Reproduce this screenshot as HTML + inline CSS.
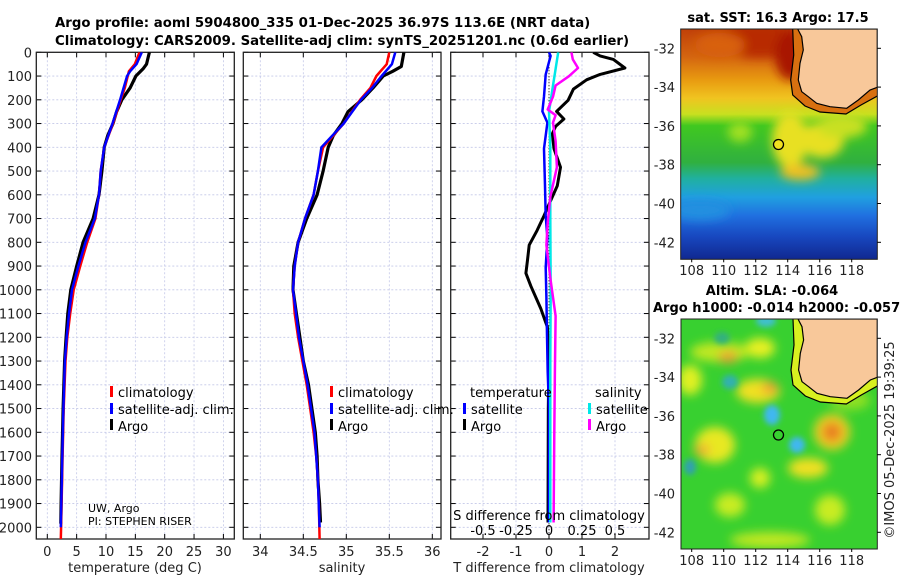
<!DOCTYPE html>
<html><head><meta charset="utf-8">
<style>
html,body{margin:0;padding:0;background:#fff;}
svg{display:block;font-family:"DejaVu Sans","Liberation Sans",sans-serif;}
</style></head>
<body>
<svg id="fig" width="900" height="580" viewBox="0 0 900 580" xmlns="http://www.w3.org/2000/svg">
<defs>
<clipPath id="cp1"><rect x="36.3" y="52.3" width="198" height="486.7"/></clipPath>
<clipPath id="cp2"><rect x="243.3" y="52.3" width="197.7" height="486.7"/></clipPath>
<clipPath id="cp3"><rect x="450.7" y="52.3" width="198.3" height="486.7"/></clipPath>
<clipPath id="cm1"><rect x="680.7" y="29" width="196.6" height="230.3"/></clipPath>
<clipPath id="cm2"><rect x="681" y="319" width="196.3" height="230"/></clipPath>
<filter id="bl" x="-50%" y="-50%" width="200%" height="200%"><feGaussianBlur stdDeviation="5"/></filter>
<filter id="bl2" x="-50%" y="-50%" width="200%" height="200%"><feGaussianBlur stdDeviation="3"/></filter>
<linearGradient id="sstg" x1="0" y1="0" x2="0" y2="1">
<stop offset="0" stop-color="#c04008"/><stop offset="0.12" stop-color="#d46510"/>
<stop offset="0.22" stop-color="#e89a10"/><stop offset="0.3" stop-color="#f0c420"/>
<stop offset="0.37" stop-color="#c8e020"/><stop offset="0.42" stop-color="#40c820"/>
<stop offset="0.58" stop-color="#30b040"/><stop offset="0.65" stop-color="#20b0a0"/>
<stop offset="0.73" stop-color="#20a0e0"/><stop offset="0.81" stop-color="#2070e0"/>
<stop offset="0.9" stop-color="#1848c0"/><stop offset="1" stop-color="#102890"/>
</linearGradient>
</defs>

<text x="55" y="27" font-size="13.3" font-weight="bold">Argo profile: aoml 5904800_335 01-Dec-2025 36.97S 113.6E (NRT data)</text>
<text x="55" y="45" font-size="13.3" font-weight="bold">Climatology: CARS2009. Satellite-adj clim: synTS_20251201.nc (0.6d earlier)</text>

<g id="p1"></g>
<g id="p2"></g>
<g id="p3"></g>

<g font-size="13">
<rect x="110" y="386" width="3" height="11" fill="#f00"/>
<text x="118" y="397">climatology</text>
<rect x="110" y="403" width="3" height="11" fill="#00f"/>
<text x="118" y="414">satellite-adj. clim.</text>
<rect x="110" y="419" width="3" height="11" fill="#000"/>
<text x="118" y="431">Argo</text>
</g>
<g font-size="13">
<rect x="330" y="386" width="3" height="11" fill="#f00"/>
<text x="338" y="397">climatology</text>
<rect x="330" y="403" width="3" height="11" fill="#00f"/>
<text x="338" y="414">satellite-adj. clim.</text>
<rect x="330" y="419" width="3" height="11" fill="#000"/>
<text x="338" y="431">Argo</text>
</g>
<g font-size="13">
<text x="470" y="397">temperature</text>
<rect x="463" y="403" width="3" height="11" fill="#00f"/>
<text x="471" y="414">satellite</text>
<rect x="463" y="419" width="3" height="11" fill="#000"/>
<text x="471" y="431">Argo</text>
<text x="595" y="397">salinity</text>
<rect x="588" y="403" width="3" height="11" fill="#00e8e8"/>
<text x="596" y="414">satellite</text>
<rect x="588" y="419" width="3" height="11" fill="#f0f"/>
<text x="596" y="431">Argo</text>
</g>
<text x="88" y="512" font-size="11">UW, Argo</text>
<text x="88" y="525" font-size="11">PI: STEPHEN RISER</text>

<text x="135" y="572" font-size="13" text-anchor="middle" fill="#222">temperature (deg C)</text>
<text x="342" y="572" font-size="13" text-anchor="middle" fill="#222">salinity</text>
<text x="549" y="572" font-size="13" text-anchor="middle" fill="#222">T difference from climatology</text>
<text x="549" y="520" font-size="13" text-anchor="middle">S difference from climatology</text>

<g>
<text x="778" y="22" font-size="13" font-weight="bold" text-anchor="middle">sat. SST: 16.3 Argo: 17.5</text>
<g clip-path="url(#cm1)">
<rect x="680.7" y="29" width="196.6" height="230.3" fill="url(#sstg)"/>
<g filter="url(#bl)">
<ellipse cx="760" cy="40" rx="40" ry="18" fill="#b82a04"/>
<ellipse cx="720" cy="45" rx="25" ry="12" fill="#d86010"/>
<ellipse cx="790" cy="55" rx="15" ry="25" fill="#a81800"/>
<ellipse cx="790" cy="140" rx="18" ry="28" fill="#e8e020"/>
<ellipse cx="822" cy="140" rx="22" ry="18" fill="#e8e020"/>
<ellipse cx="800" cy="172" rx="20" ry="8" fill="#f0c020"/>
<ellipse cx="842" cy="126" rx="25" ry="12" fill="#c8e020"/>
<ellipse cx="740" cy="132" rx="12" ry="10" fill="#a0e020"/>
<ellipse cx="700" cy="210" rx="30" ry="10" fill="#2090e0"/>
</g>
<path d="M797.7,29 L801.7,36.7 L803.3,50 L800,63.3 L798.3,80 L801.7,91.7 L808.3,96.7 L816.7,103.3 L830,106.7 L846.7,108.3 L858.3,100 L870,90 L877.3,87.3 L877.3,96 L861,105 L846,114 L820,112 L805,106 L792.7,95 L790.7,80 L793.7,55 L792.7,29 Z" fill="#d87010"/>
<path d="M797.7,29 L801.7,36.7 L803.3,50 L800,63.3 L798.3,80 L801.7,91.7 L808.3,96.7 L816.7,103.3 L830,106.7 L846.7,108.3 L858.3,100 L870,90 L877.3,87.3 L877.3,29 Z" fill="#f8c89a" stroke="#000" stroke-width="1.2"/>
<path d="M792.7,29 L793.7,55 L790.7,80 L792.7,95 L805,106 L820,112 L846,114 L861,105 L877.3,96" fill="none" stroke="#000" stroke-width="1.2"/>
<circle cx="778.5" cy="144.5" r="5" fill="#f0e020" stroke="#000" stroke-width="1.3"/>
</g>
<rect x="680.7" y="29" width="196.6" height="230.3" fill="none" stroke="#222" stroke-width="1"/>
</g>
<g>
<text x="772" y="295" font-size="13" font-weight="bold" text-anchor="middle">Altim. SLA: -0.064</text>
<text x="653" y="312" font-size="13" font-weight="bold">Argo h1000: -0.014 h2000: -0.057</text>
<g clip-path="url(#cm2)">
<rect x="681" y="319" width="196.3" height="230" fill="#38d030"/>
<g filter="url(#bl)">
<ellipse cx="760" cy="348" rx="15" ry="10" fill="#e8f020"/>
<ellipse cx="720" cy="352" rx="30" ry="10" fill="#c0e820"/>
<ellipse cx="758" cy="391" rx="22" ry="12" fill="#f0e020"/>
<ellipse cx="728" cy="357" rx="10" ry="6" fill="#f0a030"/>
<ellipse cx="770" cy="388" rx="8" ry="6" fill="#f0a030"/>
<ellipse cx="690" cy="380" rx="12" ry="15" fill="#e0f020"/>
<ellipse cx="715" cy="445" rx="20" ry="18" fill="#e8e820"/>
<ellipse cx="702" cy="450" rx="8" ry="6" fill="#f0b030"/>
<ellipse cx="832" cy="432" rx="18" ry="18" fill="#f0d020"/>
<ellipse cx="832" cy="432" rx="10" ry="10" fill="#e88020"/>
<ellipse cx="808" cy="468" rx="20" ry="10" fill="#f0e020"/>
<ellipse cx="760" cy="478" rx="10" ry="10" fill="#d8f020"/>
<ellipse cx="730" cy="505" rx="15" ry="12" fill="#c8ec20"/>
<ellipse cx="830" cy="510" rx="15" ry="15" fill="#c8ec20"/>
<ellipse cx="850" cy="400" rx="20" ry="10" fill="#90e020"/>
<ellipse cx="770" cy="540" rx="40" ry="8" fill="#c0e820"/>
</g>
<g filter="url(#bl2)">
<ellipse cx="772" cy="415" rx="8" ry="10" fill="#40b8f0"/>
<ellipse cx="797" cy="445" rx="8" ry="8" fill="#40b8f0"/>
<ellipse cx="766" cy="321" rx="10" ry="6" fill="#40c0d0"/>
<ellipse cx="730" cy="382" rx="8" ry="7" fill="#30b0b0"/>
<ellipse cx="690" cy="467" rx="6" ry="8" fill="#30a0b0"/>
<ellipse cx="722" cy="338" rx="8" ry="6" fill="#30b080"/>
</g>
<path d="M798,319 L802,326.7 L803.6,340 L800.3,353.3 L798.6,370 L802,381.7 L808.6,386.7 L817,393.3 L830.3,396.7 L847,398.3 L858.6,390 L870.3,380 L877.3,377.3 L877.3,386 L861.3,395 L846.3,404 L820.3,402 L805.3,396 L793,385 L791,370 L794,345 L793,319 Z" fill="#d8f020"/>
<path d="M798,319 L802,326.7 L803.6,340 L800.3,353.3 L798.6,370 L802,381.7 L808.6,386.7 L817,393.3 L830.3,396.7 L847,398.3 L858.6,390 L870.3,380 L877.3,377.3 L877.3,319 Z" fill="#f8c89a" stroke="#000" stroke-width="1.2"/>
<path d="M793,319 L794,345 L791,370 L793,385 L805.3,396 L820.3,402 L846.3,404 L861.3,395 L877.3,386" fill="none" stroke="#000" stroke-width="1.2"/>
<circle cx="778.5" cy="435" r="5" fill="none" stroke="#000" stroke-width="1.3"/>
</g>
<rect x="681" y="319" width="196.3" height="230" fill="none" stroke="#222" stroke-width="1"/>
</g>
<text transform="translate(894,440) rotate(-90)" font-size="13" text-anchor="middle" fill="#222">©IMOS 05-Dec-2025 19:39:25</text>
<g id="mapax"></g>
</svg>
<script>
const depthTicks = [0,100,200,300,400,500,600,700,800,900,1000,1100,1200,1300,1400,1500,1600,1700,1800,1900,2000];
const tTicks = [0,5,10,15,20,25,30];
const sTicks = [34,34.5,35,35.5,36];
const sTickLabels = ["34","34.5","35","35.5","36"];
const dTTicks = [-2,-1,0,1,2];
const dSTicks = [-0.5,-0.25,0,0.25,0.5];
const dSTickLabels = ["-0.5","-0.25","0","0.25","0.5"];

const tArgoDepth = [0,50,70,100,150,200,250,300,350,400,500,600,700,800,900,1000,1100,1200,1300,1500,1700,1900,1985];
const tArgo = [17.4,16.9,16.3,15.1,14.1,12.7,11.8,11.2,10.3,9.7,9.3,8.8,7.8,6.1,5.0,4.0,3.5,3.2,2.95,2.7,2.5,2.35,2.3];
const tClimDepth = [0,50,80,150,200,300,400,500,600,700,800,900,1000,1100,1200,1300,1500,1700,2000,2050];
const tClim = [15.7,14.9,13.9,13.2,12.5,11.2,9.7,9.1,8.8,8.2,6.8,5.6,4.5,3.9,3.4,3.1,2.8,2.6,2.35,2.3];
const tSatDepth = [0,50,80,100,150,200,300,400,500,600,700,800,900,1000,1100,1200,1300,1500,1700,2000];
const tSat = [16.1,15.2,14.1,13.6,13.0,12.4,11.1,9.7,9.1,8.8,8.1,6.5,5.3,4.2,3.7,3.3,3.0,2.75,2.55,2.3];

const sArgoDepth = [0,60,80,100,150,200,250,300,350,400,500,600,700,800,900,1000,1100,1200,1300,1400,1500,1600,1700,1800,1900,1980];
const sArgo = [35.67,35.64,35.54,35.43,35.31,35.18,35.02,34.95,34.85,34.79,34.73,34.66,34.54,34.44,34.39,34.38,34.42,34.46,34.50,34.56,34.60,34.64,34.66,34.67,34.69,34.70];
const sClimDepth = [0,50,100,150,200,300,400,500,600,700,800,900,1000,1100,1200,1300,1400,1500,1600,1700,1800,1900,2050];
const sClim = [35.5,35.47,35.35,35.28,35.16,34.97,34.73,34.67,34.62,34.52,34.44,34.40,34.38,34.40,34.44,34.49,34.54,34.58,34.62,34.65,34.67,34.68,34.69];
const sSatDepth = [0,50,100,150,200,300,400,500,600,700,800,900,1000,1200,1400,1600,1800,2000];
const sSat = [35.57,35.53,35.41,35.30,35.17,34.97,34.71,34.67,34.62,34.52,34.44,34.40,34.38,34.45,34.55,34.63,34.67,34.69];

const dTArgoDepth = [0,15,30,66,93,116,155,202,249,281,312,343,406,484,562,625,688,750,812,875,930,985,1079,1157,1266,1500,1980];
const dTArgo = [1.34,1.55,1.95,2.3,1.55,1.14,0.74,0.58,0.23,0.45,0.2,0.1,0.15,0.35,0.25,0.05,-0.15,-0.36,-0.6,-0.65,-0.7,-0.55,-0.25,-0.05,0,-0.02,-0.03];
const dTSatDepth = [0,15,93,186,249,296,406,562,688,781,907,1032,1189,1345,1502,1980];
const dTSat = [0.0,0.05,-0.1,-0.15,-0.2,-0.05,-0.15,-0.12,-0.1,-0.05,-0.1,-0.08,-0.06,-0.04,0,0];
const dSSatDepth = [0,70,140,250,400,700,1000,1300,1600,1980];
const dSSat = [0.07,0.05,0.03,0.0,0.01,0.01,0.013,0.01,0.01,0.01];
const dSArgoDepth = [0,30,66,101,140,187,241,265,296,374,484,609,718,812,950,1110,1344,1600,1980];
const dSArgo = [0.17,0.18,0.22,0.15,0.05,0.03,-0.01,0.05,0.03,0.05,0.06,0.01,-0.01,-0.02,0.01,0.05,0.045,0.04,0.035];

const mapLatTicks = [-32,-34,-36,-38,-40,-42];
const mapLonTicks = [108,110,112,114,116,118];

const y0 = 52.3, yBot = 539;
function depthY(d){ return y0 + d*0.2375; }
function tX(t){ return 47.3 + t*5.87; }
function sX(s){ return 260.3 + (s-34)*86; }
function dTX(t){ return 549 + t*33; }
function dSX(s){ return 549 + s*132; }
function latY(lat, top){ return top + 19.3 + (-32 - lat)*19.4; }
function lonX(lon){ return 691.7 + (lon-108)*16; }

const NS = "http://www.w3.org/2000/svg";
function mk(tag, attrs, parent){
  const e = document.createElementNS(NS, tag);
  for (const k in attrs) e.setAttribute(k, attrs[k]);
  parent.appendChild(e); return e;
}

function panel(g, x1, x2, clip, xticks, xlabels, xscale, showY){
  for (const d of depthTicks){
    const y = depthY(d);
    const gl = mk('line',{x1:x1,x2:x2,y1:y,y2:y,stroke:'#c4c8e8','stroke-width':0.8,'stroke-dasharray':'2,2'},g);
    
    
    mk('line',{x1:x1,x2:x1+5,y1:y,y2:y,stroke:'#000','stroke-width':1},g);
    mk('line',{x1:x2-5,x2:x2,y1:y,y2:y,stroke:'#000','stroke-width':1},g);
    if (showY){
      const t = mk('text',{x:32,y:y+5,'text-anchor':'end','font-size':13,fill:'#222'},g);
      t.textContent = d;
      
      
    }
  }
  xticks.forEach((v,i)=>{
    const x = xscale(v);
    const gl = mk('line',{x1:x,x2:x,y1:y0,y2:yBot,stroke:'#c4c8e8','stroke-width':0.8,'stroke-dasharray':'2,2'},g);
    
    
    mk('line',{x1:x,x2:x,y1:yBot-5,y2:yBot,stroke:'#000','stroke-width':1},g);
    mk('line',{x1:x,x2:x,y1:y0,y2:y0+5,stroke:'#000','stroke-width':1},g);
    const t = mk('text',{x:x,y:556,'text-anchor':'middle','font-size':13,fill:'#222'},g);
    t.textContent = xlabels[i];
    
    
  });
  const fr = mk('rect',{x:x1,y:y0,width:x2-x1,height:yBot-y0,fill:'none',stroke:'#222','stroke-width':1.3},g);
  
  
}

function line(g, depths, vals, xscale, color, w, clip, name){
  const pts = depths.map((d,i)=> xscale(vals[i]).toFixed(1)+','+depthY(d).toFixed(1)).join(' ');
  const p = mk('polyline',{points:pts,fill:'none',stroke:color,'stroke-width':w,'stroke-linejoin':'round','clip-path':'url(#'+clip+')'},g);
  
  
}

const p1 = document.getElementById('p1');
panel(p1, 36.3, 234.3, 'cp1', tTicks, tTicks.map(String), tX, true);
line(p1, tArgoDepth, tArgo, tX, '#000', 3.2, 'cp1', 'temperature-argo-line');
line(p1, tClimDepth, tClim, tX, '#f00', 2.5, 'cp1', 'temperature-climatology-line');
line(p1, tSatDepth, tSat, tX, '#00f', 2.5, 'cp1', 'temperature-satellite-line');

const p2 = document.getElementById('p2');
panel(p2, 243.3, 441, 'cp2', sTicks, sTickLabels, sX, false);
line(p2, sArgoDepth, sArgo, sX, '#000', 3.2, 'cp2', 'salinity-argo-line');
line(p2, sClimDepth, sClim, sX, '#f00', 2.5, 'cp2', 'salinity-climatology-line');
line(p2, sSatDepth, sSat, sX, '#00f', 2.5, 'cp2', 'salinity-satellite-line');

const p3 = document.getElementById('p3');
panel(p3, 450.7, 649, 'cp3', dTTicks, dTTicks.map(String), dTX, false);
const zl = mk('line',{x1:549,x2:549,y1:y0,y2:yBot,stroke:'#000','stroke-width':1,'stroke-dasharray':'1,2'},p3);


dSTicks.forEach((v,i)=>{
  const x = dSX(v);
  const t = mk('text',{x:x,y:535,'text-anchor':'middle','font-size':13,fill:'#000'},p3);
  t.textContent = dSTickLabels[i];
  
  
});
line(p3, dTArgoDepth, dTArgo, dTX, '#000', 3, 'cp3', 't-diff-argo-line');
line(p3, dTSatDepth, dTSat, dTX, '#00f', 2.5, 'cp3', 't-diff-satellite-line');
line(p3, dSSatDepth, dSSat, dSX, '#00e8e8', 2.5, 'cp3', 's-diff-satellite-line');
line(p3, dSArgoDepth, dSArgo, dSX, '#f0f', 2.5, 'cp3', 's-diff-argo-line');

const ma = document.getElementById('mapax');
[[29,259.3,275],[319,549,565]].forEach(([top,bot,ly])=>{
  mapLatTicks.forEach(lat=>{
    const y = latY(lat, top);
    mk('line',{x1:877.3,x2:881,y1:y,y2:y,stroke:'#000'},ma);
    const t = mk('text',{x:675,y:y+5,'text-anchor':'end','font-size':13,fill:'#222'},ma);
    t.textContent = String(lat);
    
    
  });
  mapLonTicks.forEach(lon=>{
    const x = lonX(lon);
    mk('line',{x1:x,x2:x,y1:bot,y2:bot+3,stroke:'#000'},ma);
    const t = mk('text',{x:x,y:ly,'text-anchor':'middle','font-size':13,fill:'#222'},ma);
    t.textContent = String(lon);
    
    
  });
});
</script>
</body></html>
